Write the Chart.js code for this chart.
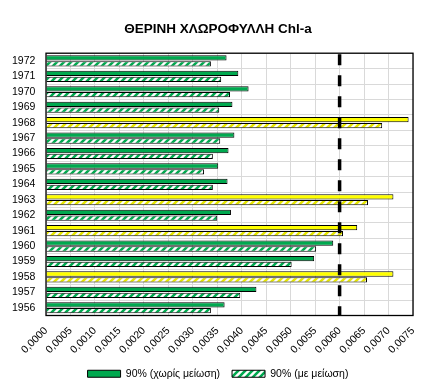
<!DOCTYPE html>
<html>
<head>
<meta charset="utf-8">
<script src="https://cdn.jsdelivr.net/npm/chart.js@4"></script>
<style>
  html, body { margin: 0; padding: 0; background: #fff; }
  #wrap { width: 448px; height: 392px; }
</style>
</head>
<body>
<div id="wrap"><canvas id="chart"></canvas></div>
<script>
const years = ["1972", "1971", "1970", "1969", "1968", "1967", "1966", "1965", "1964",
  "1963", "1962", "1961", "1960", "1959", "1958", "1957", "1956"];
const withoutReduction = [0.00369, 0.00393, 0.00414, 0.00381, 0.00741, 0.00385, 0.00373, 0.00352, 0.00371,
  0.00710, 0.00378, 0.00636, 0.00587, 0.00548, 0.00710, 0.00430, 0.00365];
const withReduction = [0.00337, 0.00358, 0.00376, 0.00354, 0.00687, 0.00356, 0.00341, 0.00323, 0.00341,
  0.00658, 0.00350, 0.00607, 0.00552, 0.00502, 0.00656, 0.00397, 0.00337];
const xTicks = [0, 0.0075, 0.0005];
const threshold = 0.006;
const seriesNames = ["90% (χωρίς μείωση)", "90% (με μείωση)"];
const chartTitle = "ΘΕΡΙΝΗ ΧΛΩΡΟΦΥΛΛΗ Chl-a";

const GREEN = "#00A94F";
const YELLOW = "#FFFF00";
const FONT = "'Liberation Sans', Arial, sans-serif";

function hatch(color) {
  const c = document.createElement("canvas");
  c.width = 7; c.height = 7;
  const g = c.getContext("2d");
  g.fillStyle = "#fff";
  g.fillRect(0, 0, 7, 7);
  g.strokeStyle = color;
  g.lineWidth = 2.6;
  g.beginPath();
  g.moveTo(-1, 8); g.lineTo(8, -1);
  g.moveTo(-4, 4); g.lineTo(4, -4);
  g.moveTo(3, 11); g.lineTo(11, 3);
  g.stroke();
  return g.createPattern(c, "repeat");
}

const greenHatch = hatch(GREEN);
const yellowHatch = hatch("#E6E600");

// bars of a year whose value passes the threshold are drawn yellow
const solidColors = withoutReduction.map(v => v > threshold ? YELLOW : GREEN);
const hatchColors = withoutReduction.map(v => v > threshold ? yellowHatch : greenHatch);

const frameAndLimit = {
  id: "frameAndLimit",
  afterDatasetsDraw(chart) {
    const { ctx, chartArea: a, scales } = chart;
    const x = scales.x.getPixelForValue(threshold);
    ctx.save();
    ctx.strokeStyle = "#000";
    ctx.lineWidth = 3.5;
    ctx.setLineDash([11, 10]);
    ctx.beginPath();
    ctx.moveTo(x, a.top + 1);
    ctx.lineTo(x, a.bottom);
    ctx.stroke();
    ctx.setLineDash([]);
    ctx.lineWidth = 1.3;
    ctx.strokeRect(a.left, a.top, a.right - a.left, a.bottom - a.top);
    ctx.restore();
  }
};

new Chart(document.getElementById("chart"), {
  type: "bar",
  data: {
    labels: years,
    datasets: [
      {
        label: seriesNames[0],
        data: withoutReduction,
        backgroundColor: solidColors,
        borderColor: "#000",
        borderWidth: 1,
        categoryPercentage: 0.76,
        barPercentage: 0.9
      },
      {
        label: seriesNames[1],
        data: withReduction,
        backgroundColor: hatchColors,
        borderColor: "#000",
        borderWidth: 1,
        categoryPercentage: 0.76,
        barPercentage: 0.9
      }
    ]
  },
  options: {
    indexAxis: "y",
    responsive: true,
    maintainAspectRatio: false,
    animation: false,
    layout: { padding: { left: 23, right: 35, top: 0, bottom: 3 } },
    scales: {
      x: {
        min: xTicks[0],
        max: xTicks[1],
        ticks: {
          stepSize: xTicks[2],
          minRotation: 45,
          maxRotation: 45,
          padding: 9,
          color: "#000",
          font: { family: FONT, size: 10.5 },
          callback: v => v.toFixed(4).replace(".", ",")
        },
        grid: { color: "#D9D9D9", drawTicks: false },
        border: { display: false },
        afterFit: s => { s.height = 41; }
      },
      y: {
        ticks: {
          autoSkip: false,
          mirror: true,   // lets the labels sit in the left padding without clipping
          padding: -34,
          color: "#000",
          font: { family: FONT, size: 10.5 }
        },
        grid: { color: "#D9D9D9", drawTicks: false, offset: true },
        border: { display: false },
        afterFit: s => { s.width = 23; }
      }
    },
    plugins: {
      title: {
        display: true,
        text: chartTitle,
        color: "#000",
        font: { family: FONT, size: 13.5, weight: "bold" },
        padding: { top: 21, bottom: 16 }
      },
      legend: {
        position: "bottom",
        labels: {
          boxWidth: 33,
          boxHeight: 7,
          padding: 12,
          color: "#000",
          font: { family: FONT, size: 10.5 }
        }
      },
      tooltip: { enabled: false }
    }
  },
  plugins: [frameAndLimit]
});
</script>
</body>
</html>
